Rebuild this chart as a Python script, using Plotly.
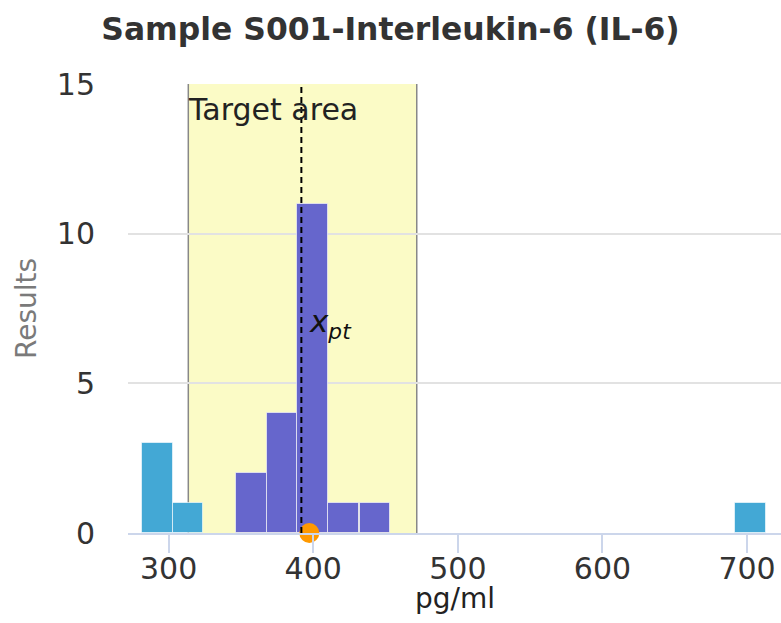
import plotly.graph_objects as go

# Data
out_x = [292.4, 313.4, 702.2]      # bar centers outside target (pg/ml)
out_y = [3, 1, 1]
in_x = [357.2, 378.4, 399.6, 421.0, 442.6]   # bar centers inside target
in_y = [2, 4, 11, 1, 1]
bar_width = 21.2
target_low, target_high = 313.6, 471.6
x_pt = 391.8
assigned_dot = 397.3
x_ticks = [300, 400, 500, 600, 700]
y_ticks = [0, 5, 10, 15]

FONT = "DejaVu Sans"
fig = go.Figure()
fig.add_trace(go.Bar(x=out_x, y=out_y, width=bar_width, marker=dict(color="#43a8d5", line=dict(color="rgba(255,255,255,0.6)", width=1)), showlegend=False))
fig.add_trace(go.Bar(x=in_x, y=in_y, width=bar_width, marker=dict(color="#6666cc", line=dict(color="rgba(255,255,255,0.6)", width=1)), showlegend=False))
fig.add_trace(go.Scatter(x=[assigned_dot], y=[0], mode="markers", marker=dict(color="#ff9900", size=20), cliponaxis=False, showlegend=False))

fig.add_shape(type="rect", xref="x", yref="y", x0=target_low, x1=target_high, y0=0, y1=15, fillcolor="#fbfbc6", line=dict(width=0), layer="below")
for xv in (target_low, target_high):
    fig.add_shape(type="line", xref="x", yref="y", x0=xv, x1=xv, y0=0, y1=15, line=dict(color="#888888", width=1.5), layer="below")
fig.add_shape(type="line", xref="x", yref="y", x0=x_pt, x1=x_pt, y0=0, y1=15, line=dict(color="black", width=2, dash="6px,4px"), layer="above")

fig.add_annotation(x=target_low, y=15, xref="x", yref="y", text="Target area", showarrow=False, xanchor="left", yanchor="top", xshift=-2, yshift=-6, font=dict(family=FONT, size=30, color="#222"))
fig.add_annotation(x=x_pt, y=7.0, xref="x", yref="y", text="<i>x</i><sub><i>pt</i></sub>", showarrow=False, xanchor="left", yanchor="middle", xshift=6, font=dict(family=FONT, size=31, color="#111"))
# x-axis title
fig.add_annotation(x=0.5, y=0, xref="paper", yref="paper", text="pg/ml", showarrow=False, xanchor="center", yanchor="middle", yshift=-65, font=dict(family=FONT, size=28, color="#222"))

fig.update_layout(
    width=781, height=623,
    margin=dict(l=128, r=0, t=84, b=90, autoexpand=False),
    paper_bgcolor="white", plot_bgcolor="white",
    bargap=0,
    title=dict(text="<b>Sample S001-Interleukin-6 (IL-6)</b>", x=0.5, xanchor="center", yref="container", y=1 - 29 / 623, yanchor="middle", font=dict(family=FONT, size=31.4, color="#333333")),
    font=dict(family=FONT),
)
fig.update_xaxes(range=[271.9, 723.5], tickvals=x_ticks, ticks="outside", ticklen=18, tickcolor="#ccd6eb", tickwidth=1.5,
                 showline=True, linecolor="#ccd6eb", linewidth=1.5, showgrid=False, zeroline=False, automargin=False,
                 ticklabelstandoff=-10,
                 tickfont=dict(family=FONT, size=30, color="#333"))
fig.update_yaxes(range=[0, 15], tickvals=y_ticks, showgrid=True, gridcolor="#e2e2e2", gridwidth=1.5, zeroline=False, showline=False, automargin=False,
                 ticks="", ticklabelstandoff=32, tickfont=dict(family=FONT, size=30, color="#333"),
                 title=dict(text="Results", font=dict(family=FONT, size=28, color="#7a7a7a"), standoff=12))

fig.write_html("out.html", config={"displayModeBar": False},
               post_script="document.body.style.margin='0';document.body.style.padding='0';")
